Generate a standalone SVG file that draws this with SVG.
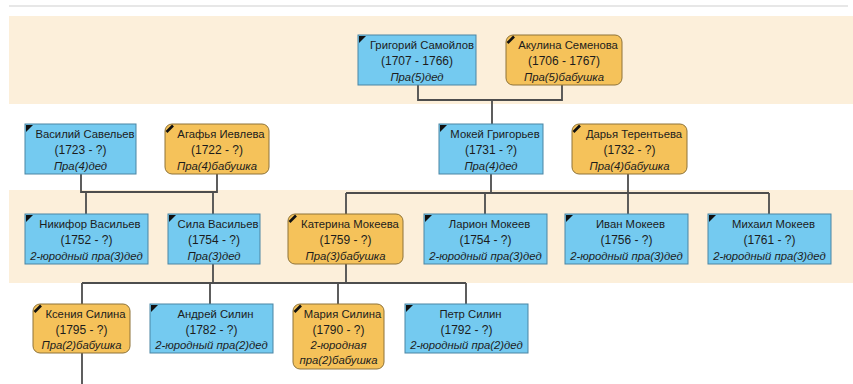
<svg xmlns="http://www.w3.org/2000/svg" width="853" height="384" viewBox="0 0 853 384">
<style>
.m{fill:#74caf0;stroke:#4b85a3;stroke-width:1}
.f{fill:#f5c25a;stroke:#8e7338;stroke-width:1}
.t{font-family:"Liberation Sans",Arial,sans-serif;font-size:11.3px;fill:#1c1c1c;text-anchor:middle}
.y{font-size:12px}
.i{font-style:italic}
.c{fill:none;stroke:#4d4d4d;stroke-width:1.8}
.k{fill:#111}
.ks{stroke:#111;stroke-width:2.6;fill:none}
</style>
<rect width="853" height="384" fill="#ffffff"/>
<line x1="9" y1="6" x2="848" y2="6" stroke="#cfcfcf" stroke-width="1"/>
<rect x="9" y="16" width="844" height="88" fill="#fcefda"/>
<rect x="9" y="190" width="844" height="93" fill="#fcefda"/>

<g id="connectors" class="c">
<path d="M418 85V100H562V85M492 100V124"/>
<path d="M81 174V192H217V174M86 192V214M213 192V214"/>
<path d="M491 174V193M628 174V193M346 193H769M346 193V214M485 193V214M628 193V214M769 193V214"/>
<path d="M213 264V283M346 264V283M82 283H466M82 283V304M210 283V304M338 283V304M466 283V304"/>
<path d="M82 353V384"/>
</g>

<g id="n1">
<rect class="m" x="358" y="35" width="118" height="50"/>
<polygon class="k" points="359,36 366,36 359,43"/>
<text class="t" x="422" y="49">Григорий Самойлов</text>
<text class="t y" x="417" y="65">(1707 - 1766)</text>
<text class="t i" x="417" y="81">Пра(5)дед</text>
</g>
<g id="n2">
<rect class="f" x="506" y="35" width="116" height="50" rx="7"/>
<path class="ks" d="M507.5 43L514 36.5"/>
<text class="t" x="568" y="49">Акулина Семенова</text>
<text class="t y" x="564" y="65">(1706 - 1767)</text>
<text class="t i" x="564" y="81">Пра(5)бабушка</text>
</g>

<g id="n3">
<rect class="m" x="25" y="124" width="111" height="50"/>
<polygon class="k" points="26,125 33,125 26,132"/>
<text class="t" x="85" y="138">Василий Савельев</text>
<text class="t y" x="80.5" y="154">(1723 - ?)</text>
<text class="t i" x="80.5" y="170">Пра(4)дед</text>
</g>
<g id="n4">
<rect class="f" x="165" y="124" width="104" height="50" rx="7"/>
<path class="ks" d="M166.5 132L173 125.5"/>
<text class="t" x="221" y="138">Агафья Иевлева</text>
<text class="t y" x="217" y="154">(1722 - ?)</text>
<text class="t i" x="217" y="170">Пра(4)бабушка</text>
</g>
<g id="n5">
<rect class="m" x="439" y="124" width="104" height="50"/>
<polygon class="k" points="440,125 447,125 440,132"/>
<text class="t" x="495" y="138">Мокей Григорьев</text>
<text class="t y" x="491" y="154">(1731 - ?)</text>
<text class="t i" x="491" y="170">Пра(4)дед</text>
</g>
<g id="n6">
<rect class="f" x="572" y="124" width="115" height="50" rx="7"/>
<path class="ks" d="M573.5 132L580 125.5"/>
<text class="t" x="634" y="138">Дарья Терентьева</text>
<text class="t y" x="629.5" y="154">(1732 - ?)</text>
<text class="t i" x="629.5" y="170">Пра(4)бабушка</text>
</g>

<g id="n7">
<rect class="m" x="25" y="214" width="123" height="50"/>
<polygon class="k" points="26,215 33,215 26,222"/>
<text class="t" x="90" y="228">Никифор Васильев</text>
<text class="t y" x="86.5" y="244">(1752 - ?)</text>
<text class="t i" x="86.5" y="260">2-юродный пра(3)дед</text>
</g>
<g id="n8">
<rect class="m" x="168" y="214" width="92" height="50"/>
<polygon class="k" points="169,215 176,215 169,222"/>
<text class="t" x="218" y="228">Сила Васильев</text>
<text class="t y" x="214" y="244">(1754 - ?)</text>
<text class="t i" x="214" y="260">Пра(3)дед</text>
</g>
<g id="n9">
<rect class="f" x="288" y="214" width="115" height="50" rx="7"/>
<path class="ks" d="M289.5 222L296 215.5"/>
<text class="t" x="350" y="228">Катерина Мокеева</text>
<text class="t y" x="345.5" y="244">(1759 - ?)</text>
<text class="t i" x="345.5" y="260">Пра(3)бабушка</text>
</g>
<g id="n10">
<rect class="m" x="424" y="214" width="123" height="50"/>
<polygon class="k" points="425,215 432,215 425,222"/>
<text class="t" x="489.5" y="228">Ларион Мокеев</text>
<text class="t y" x="485.5" y="244">(1754 - ?)</text>
<text class="t i" x="485.5" y="260">2-юродный пра(3)дед</text>
</g>
<g id="n11">
<rect class="m" x="565" y="214" width="123" height="50"/>
<polygon class="k" points="566,215 573,215 566,222"/>
<text class="t" x="630.5" y="228">Иван Мокеев</text>
<text class="t y" x="626.5" y="244">(1756 - ?)</text>
<text class="t i" x="626.5" y="260">2-юродный пра(3)дед</text>
</g>
<g id="n12">
<rect class="m" x="708" y="214" width="123" height="50"/>
<polygon class="k" points="709,215 716,215 709,222"/>
<text class="t" x="773.5" y="228">Михаил Мокеев</text>
<text class="t y" x="769.5" y="244">(1761 - ?)</text>
<text class="t i" x="769.5" y="260">2-юродный пра(3)дед</text>
</g>

<g id="n13">
<rect class="f" x="33" y="304" width="97" height="49" rx="7"/>
<path class="ks" d="M34.5 312L41 305.5"/>
<text class="t" x="85.5" y="318">Ксения Силина</text>
<text class="t y" x="81.5" y="334">(1795 - ?)</text>
<text class="t i" x="81.5" y="349">Пра(2)бабушка</text>
</g>
<g id="n14">
<rect class="m" x="150" y="304" width="123" height="49"/>
<polygon class="k" points="151,305 158,305 151,312"/>
<text class="t" x="215.5" y="318">Андрей Силин</text>
<text class="t y" x="211.5" y="334">(1782 - ?)</text>
<text class="t i" x="211.5" y="349">2-юродный пра(2)дед</text>
</g>
<g id="n15">
<rect class="f" x="293" y="304" width="91" height="65" rx="7"/>
<path class="ks" d="M294.5 312L301 305.5"/>
<text class="t" x="342.5" y="318">Мария Силина</text>
<text class="t y" x="338.5" y="334">(1790 - ?)</text>
<text class="t i" x="338.5" y="349">2-юродная</text>
<text class="t i" x="338.5" y="364">пра(2)бабушка</text>
</g>
<g id="n16">
<rect class="m" x="405" y="304" width="123" height="49"/>
<polygon class="k" points="406,305 413,305 406,312"/>
<text class="t" x="470.5" y="318">Петр Силин</text>
<text class="t y" x="466.5" y="334">(1792 - ?)</text>
<text class="t i" x="466.5" y="349">2-юродный пра(2)дед</text>
</g>
</svg>
